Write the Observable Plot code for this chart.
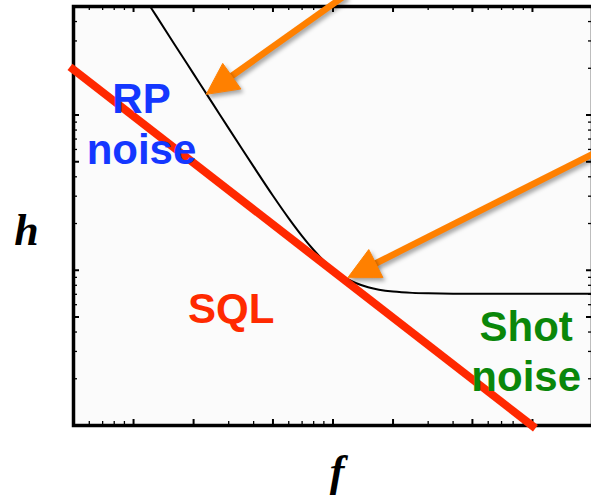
<!DOCTYPE html>
<html>
<head>
<meta charset="utf-8">
<script src="https://cdn.jsdelivr.net/npm/d3@7"></script>
<script src="https://cdn.jsdelivr.net/npm/@observablehq/plot@0.6"></script>
<style>
html, body { margin: 0; padding: 0; background: #fff; overflow: hidden; }
#chart { width: 591px; height: 501px; overflow: hidden; }
#chart svg { max-width: none !important; }
g[aria-description="arrow"] { filter: drop-shadow(2px 3px 2px rgba(0,0,0,0.35)); }
</style>
</head>
<body>
<div id="chart"></div>
<script>
// ---- data ----
const xDomain = [0.5, 200];
const yDomain = [1, 500];

const xMajorTicks = [1, 2, 5, 10, 20, 50, 100];
const xMinorTicks = [0.6, 0.7, 0.8, 0.9, 3, 4, 6, 7, 8, 9, 30, 40, 60, 70, 80, 90];
const yMajorTicks = [5, 10, 50, 100];
const yMinorTicks = [2, 3, 4, 6, 7, 8, 9, 20, 30, 40, 60, 70, 80, 90, 200, 300, 400];

// total noise curve
const noiseF = [1.15, 1.3, 1.6, 2, 2.5, 3, 4, 5, 6, 7, 8, 9, 10, 11, 12, 13, 15, 17, 20, 25, 30, 40, 60, 100, 200];
const noiseH = [556, 435, 287, 184, 118, 82.0, 46.5, 30.2, 21.6, 16.6, 13.5, 11.5, 10.2, 9.31, 8.70, 8.28, 7.77, 7.49, 7.29, 7.15, 7.10, 7.07, 7.05, 7.05, 7.05];

// standard quantum limit line
const sqlF = [0.48, 103.5];
const sqlH = [204, 0.96];

// annotation arrows (tail -> tip)
const arrowTailF = [11.6, 219];
const arrowTailH = [594, 59.4];
const arrowTipF = [2.32, 11.9];
const arrowTipH = [136.6, 9.0];

// text labels
const labelText = ["RP", "noise", "SQL", "Shot", "noise"];
const labelF = [1.096, 1.096, 3.09, 93, 93];
const labelH = [125.6, 59.3, 5.59, 4.28, 2.03];
const labelColor = ["#1437ff", "#1437ff", "#ff2a00", "#0a870a", "#0a870a"];

const xLabel = "f";
const yLabel = "h";

// ---- chart ----
const base = {
  width: 601, height: 501,
  marginLeft: 73, marginRight: 9, marginTop: 6, marginBottom: 76,
  style: { background: "white", maxWidth: "none" },
  x: { type: "log", domain: xDomain, axis: null },
  y: { type: "log", domain: yDomain, axis: null }
};

const probe = Plot.plot({ ...base, marks: [Plot.frame()] });
const sx = probe.scale("x"), sy = probe.scale("y");

const HEAD_L = 31, HEAD_W = 15.5;
const shafts = [], heads = [];
arrowTipF.forEach((_, i) => {
  const x0 = sx.apply(arrowTailF[i]), y0 = sy.apply(arrowTailH[i]);
  const x1 = sx.apply(arrowTipF[i]), y1 = sy.apply(arrowTipH[i]);
  const len = Math.hypot(x1 - x0, y1 - y0);
  const ux = (x1 - x0) / len, uy = (y1 - y0) / len;
  const bx = x1 - HEAD_L * ux, by = y1 - HEAD_L * uy;
  const nx = -uy, ny = ux;
  shafts.push({ f1: arrowTailF[i], h1: arrowTailH[i], f2: sx.invert(bx + 3 * ux), h2: sy.invert(by + 3 * uy) });
  heads.push(
    { id: i, f: arrowTipF[i], h: arrowTipH[i] },
    { id: i, f: sx.invert(bx + HEAD_W * nx), h: sy.invert(by + HEAD_W * ny) },
    { id: i, f: sx.invert(bx - HEAD_W * nx), h: sy.invert(by - HEAD_W * ny) }
  );
});

const noise = noiseF.map((f, i) => ({ f, h: noiseH[i] }));
const sql = sqlF.map((f, i) => ({ f, h: sqlH[i] }));
const labels = labelText.map((t, i) => ({ t, f: labelF[i], h: labelH[i], c: labelColor[i] }));

const frameH = 425 - 6, frameW = 592 - 73;
const MAJ = 6, MIN = 4;
const sans = "'Liberation Sans', Arial, Helvetica, sans-serif";
const serif = "'Liberation Serif', 'Times New Roman', serif";

const chart = Plot.plot({
  ...base,
  marks: [
    Plot.frame({ fill: "#fbfbfb", stroke: "none" }),
    Plot.tickX(xMajorTicks, { x: d => d, insetTop: frameH - MAJ, stroke: "black", strokeWidth: 2 }),
    Plot.tickX(xMajorTicks, { x: d => d, insetBottom: frameH - MAJ, stroke: "black", strokeWidth: 2 }),
    Plot.tickX(xMinorTicks, { x: d => d, insetTop: frameH - MIN, stroke: "black", strokeWidth: 1.3 }),
    Plot.tickX(xMinorTicks, { x: d => d, insetBottom: frameH - MIN, stroke: "black", strokeWidth: 1.3 }),
    Plot.tickY(yMajorTicks, { y: d => d, insetRight: frameW - MAJ, stroke: "black", strokeWidth: 2 }),
    Plot.tickY(yMajorTicks, { y: d => d, insetLeft: frameW - MAJ, stroke: "black", strokeWidth: 2 }),
    Plot.tickY(yMinorTicks, { y: d => d, insetRight: frameW - MIN, stroke: "black", strokeWidth: 1.3 }),
    Plot.tickY(yMinorTicks, { y: d => d, insetLeft: frameW - MIN, stroke: "black", strokeWidth: 1.3 }),
    Plot.line(noise, { x: "f", y: "h", curve: "catmull-rom", stroke: "black", strokeWidth: 2, clip: true }),
    Plot.frame({ stroke: "black", strokeWidth: 3.5 }),
    Plot.line(sql, { x: "f", y: "h", stroke: "#ff2800", strokeWidth: 8, strokeLinecap: "butt" }),
    Plot.link(shafts, { x1: "f1", y1: "h1", x2: "f2", y2: "h2", stroke: "#ff8000", strokeWidth: 6.5, strokeLinecap: "butt", ariaDescription: "arrow" }),
    Plot.line(heads, { x: "f", y: "h", z: "id", curve: "linear-closed", fill: "#ff8000", stroke: "#ff8000", strokeWidth: 1, ariaDescription: "arrow" }),
    Plot.text(labels, { x: "f", y: "h", text: "t", fill: "c", fontSize: 42, fontWeight: "bold",
      fontFamily: sans, textAnchor: "middle", lineAnchor: "middle" }),
    Plot.text([yLabel], { text: d => d, frameAnchor: "left", dx: -47, dy: 15, lineAnchor: "middle", textAnchor: "middle",
      fontSize: 44, fontWeight: "bold", fontStyle: "italic", fontFamily: serif, fill: "black" }),
    Plot.text([xLabel], { text: d => d, frameAnchor: "bottom", dx: 4, dy: 46, lineAnchor: "middle", textAnchor: "middle",
      fontSize: 44, fontWeight: "bold", fontStyle: "italic", fontFamily: serif, fill: "black" })
  ]
});

document.getElementById("chart").appendChild(chart);
</script>
</body>
</html>
